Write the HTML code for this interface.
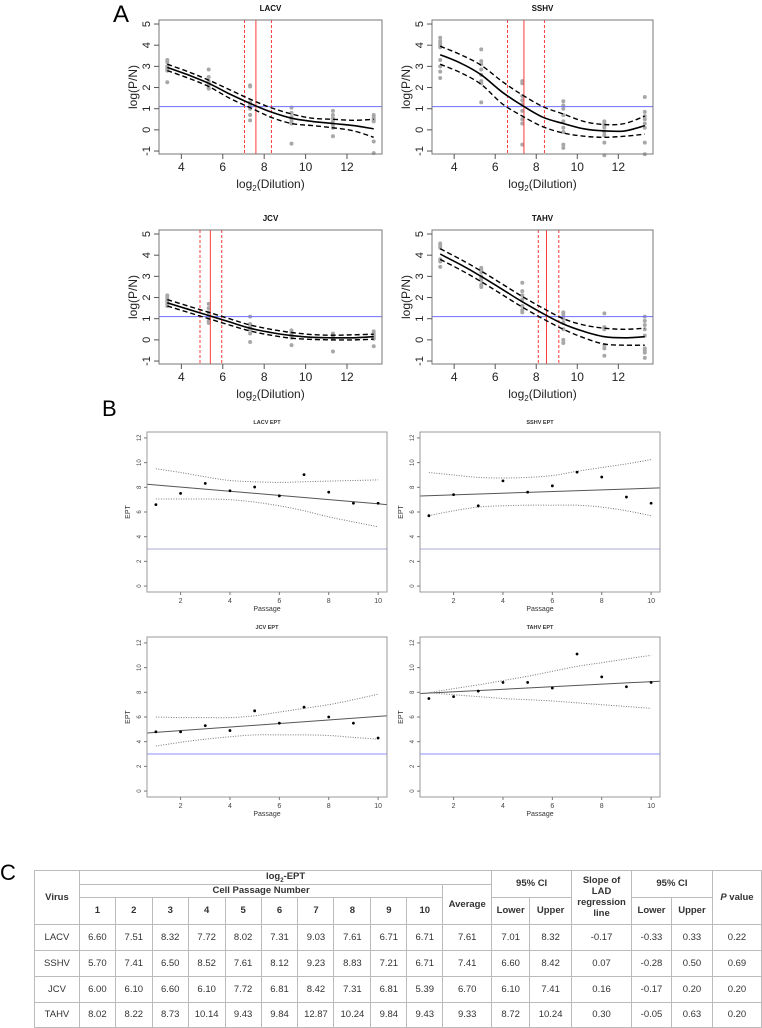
<!DOCTYPE html>
<html><head><meta charset="utf-8">
<style>
body{margin:0;background:#fff;width:762px;height:1028px;overflow:hidden;position:relative;font-family:"Liberation Sans",sans-serif;}
svg{position:absolute;left:0;top:0;}
table{position:absolute;left:34px;top:870px;border-collapse:collapse;font-family:"Liberation Sans",sans-serif;font-size:9.5px;color:#333;table-layout:fixed;}
td{border:1px solid #bbb;text-align:center;padding:0;}
.h{font-weight:bold;}
</style></head>
<body>
<svg id="fig" width="762" height="1028" viewBox="0 0 762 1028">
<text x="113" y="22" font-size="24" font-family="Liberation Sans">A</text>
<text x="102" y="416" font-size="22" font-family="Liberation Sans">B</text>
<text x="0" y="880" font-size="22" font-family="Liberation Sans">C</text>
</svg>

<table>
<colgroup><col style="width:45px"><col style="width:36px"><col style="width:37px"><col style="width:36px"><col style="width:37px"><col style="width:36px"><col style="width:37px"><col style="width:36px"><col style="width:37px"><col style="width:36px"><col style="width:36px"><col style="width:49px"><col style="width:38px"><col style="width:42px"><col style="width:60px"><col style="width:40px"><col style="width:41px"><col style="width:49px"></colgroup>
<tr style="height:13px"><td rowspan="3" class="h">Virus</td><td colspan="11" class="h">log<sub style="font-size:6px">2</sub>-EPT</td><td colspan="2" rowspan="2" class="h">95% CI</td><td rowspan="3" class="h">Slope of LAD regression line</td><td colspan="2" rowspan="2" class="h">95% CI</td><td rowspan="3" class="h"><i>P</i> value</td></tr>
<tr style="height:13px"><td colspan="10" class="h">Cell Passage Number</td><td rowspan="2" class="h">Average</td></tr>
<tr style="height:27px"><td class="h">1</td><td class="h">2</td><td class="h">3</td><td class="h">4</td><td class="h">5</td><td class="h">6</td><td class="h">7</td><td class="h">8</td><td class="h">9</td><td class="h">10</td><td class="h">Lower</td><td class="h">Upper</td><td class="h">Lower</td><td class="h">Upper</td></tr>
<tr style="height:26px"><td>LACV</td><td>6.60</td><td>7.51</td><td>8.32</td><td>7.72</td><td>8.02</td><td>7.31</td><td>9.03</td><td>7.61</td><td>6.71</td><td>6.71</td><td>7.61</td><td>7.01</td><td>8.32</td><td>-0.17</td><td>-0.33</td><td>0.33</td><td>0.22</td></tr>
<tr style="height:26px"><td>SSHV</td><td>5.70</td><td>7.41</td><td>6.50</td><td>8.52</td><td>7.61</td><td>8.12</td><td>9.23</td><td>8.83</td><td>7.21</td><td>6.71</td><td>7.41</td><td>6.60</td><td>8.42</td><td>0.07</td><td>-0.28</td><td>0.50</td><td>0.69</td></tr>
<tr style="height:26px"><td>JCV</td><td>6.00</td><td>6.10</td><td>6.60</td><td>6.10</td><td>7.72</td><td>6.81</td><td>8.42</td><td>7.31</td><td>6.81</td><td>5.39</td><td>6.70</td><td>6.10</td><td>7.41</td><td>0.16</td><td>-0.17</td><td>0.20</td><td>0.20</td></tr>
<tr style="height:25px"><td>TAHV</td><td>8.02</td><td>8.22</td><td>8.73</td><td>10.14</td><td>9.43</td><td>9.84</td><td>12.87</td><td>10.24</td><td>9.84</td><td>9.43</td><td>9.33</td><td>8.72</td><td>10.24</td><td>0.30</td><td>-0.05</td><td>0.63</td><td>0.20</td></tr>
</table>

<script>
// ---------- Panel A data ----------
const aNames = ["LACV","SSHV","JCV","TAHV"];
const aCurveX = [3.32,4.32,5.32,6.32,7.32,8.32,9.32,10.32,11.32,12.32,13.29];
const aFitLACV = [2.95,2.6,2.2,1.7,1.25,0.85,0.55,0.4,0.3,0.2,0.05];
const aUpLACV = [3.1,2.75,2.35,1.9,1.45,1.05,0.75,0.55,0.5,0.45,0.5];
const aLoLACV = [2.8,2.45,2.05,1.5,1.05,0.6,0.3,0.2,0.1,-0.05,-0.35];
const aFitSSHV = [3.55,3.15,2.6,1.8,1.15,0.6,0.3,0.05,-0.05,-0.05,0.2];
const aUpSSHV = [3.95,3.55,3.05,2.3,1.65,1.1,0.75,0.4,0.25,0.3,0.65];
const aLoSSHV = [3.1,2.7,2.15,1.25,0.65,0.15,-0.15,-0.3,-0.35,-0.3,-0.2];
const aFitJCV = [1.75,1.45,1.15,0.85,0.55,0.35,0.2,0.12,0.1,0.1,0.15];
const aUpJCV = [1.9,1.6,1.3,1.0,0.7,0.5,0.35,0.25,0.22,0.24,0.27];
const aLoJCV = [1.6,1.3,1.0,0.7,0.42,0.22,0.08,0.02,0.0,0.0,0.03];
const aFitTAHV = [4.05,3.55,3.0,2.4,1.8,1.25,0.75,0.4,0.15,0.1,0.15];
const aUpTAHV = [4.3,3.8,3.25,2.65,2.05,1.5,1.0,0.7,0.55,0.5,0.55];
const aLoTAHV = [3.8,3.3,2.75,2.15,1.55,1.0,0.5,0.1,-0.2,-0.25,-0.25];
const aDoseX = [3.32,5.32,7.32,9.32,11.32,13.29];
const aPtsLACV = [[3.3,3.2,3.0,2.9,2.8,2.85,2.25],[2.85,2.5,2.3,2.2,2.1,2.0,1.95],[2.1,2.05,1.3,1.2,1.0,0.7,0.45],[1.05,0.8,0.6,0.5,0.4,0.3,-0.65],[0.9,0.7,0.55,0.4,0.25,0.1,-0.3],[0.7,0.6,0.5,0.45,0.4,-0.55,-1.1]];
const aPtsSSHV = [[4.35,4.2,4.1,4.0,3.9,3.3,3.0,2.75,2.45],[3.8,3.25,3.1,2.85,2.6,2.3,2.2,1.3],[2.3,2.2,1.6,1.4,1.2,0.9,0.5,0.3,-0.7],[1.35,1.15,1.0,0.7,0.4,0.1,-0.1,-0.7,-0.85],[0.4,0.3,0.2,0.1,-0.1,-0.25,-0.6,-1.2],[1.55,0.85,0.65,0.5,0.3,0.1,-0.6,-1.15]];
const aPtsJCV = [[2.1,2.0,1.9,1.8,1.7,1.6],[1.7,1.5,1.3,1.1,0.9,0.8],[1.1,0.75,0.6,0.5,0.3,-0.1],[0.45,0.35,0.25,0.15,0.1,-0.25],[0.3,0.2,0.1,0.05,-0.55],[0.4,0.3,0.2,0.1,0.05,-0.3]];
const aPtsTAHV = [[4.55,4.45,4.35,3.8,3.7,3.45],[3.4,3.3,3.2,3.0,2.9,2.8,2.6,2.5],[2.7,2.3,2.1,1.9,1.6,1.4,1.3],[1.3,1.2,1.0,0.8,0.5,0.0,-0.15],[1.25,0.6,0.5,-0.25,-0.4,-0.75],[1.1,0.9,0.7,0.5,0.2,-0.4,-0.5,-0.6,-0.85]];
const aCutoff = [1.1,1.1,1.1,1.1];
const aEstimate = [7.6,7.4,5.4,8.5];
const aCiLow = [7.05,6.6,4.9,8.1];
const aCiHigh = [8.35,8.4,5.95,9.1];
const aXTicks = [4,6,8,10,12];
const aYTicks = [-1,0,1,2,3,4,5];

// ---------- Panel B data ----------
const bNames = ["LACV EPT","SSHV EPT","JCV EPT","TAHV EPT"];
const bPassage = [1,2,3,4,5,6,7,8,9,10];
const bEptLACV = [6.6,7.51,8.32,7.72,8.02,7.31,9.03,7.61,6.71,6.71];
const bEptSSHV = [5.7,7.41,6.5,8.52,7.61,8.12,9.23,8.83,7.21,6.71];
const bEptJCV = [4.8,4.8,5.3,4.9,6.5,5.5,6.8,6.0,5.5,4.3];
const bEptTAHV = [7.5,7.65,8.1,8.8,8.8,8.35,11.1,9.25,8.45,8.8];
const bFitEnds = [[8.25,6.6],[7.3,7.95],[4.7,6.1],[7.9,8.9]];
const bCiX = [1,2,3,4,5,6,7,8,9,10];
const bUpLACV = [9.5,9.2,8.85,8.55,8.45,8.4,8.45,8.5,8.55,8.6];
const bLoLACV = [7.05,7.05,7.05,7.0,6.8,6.5,6.1,5.6,5.2,4.8];
const bUpSSHV = [9.2,9.0,8.8,8.75,8.8,8.95,9.3,9.6,9.9,10.25];
const bLoSSHV = [5.7,6.1,6.4,6.5,6.55,6.55,6.55,6.4,6.1,5.7];
const bUpJCV = [6.0,5.95,5.95,5.95,6.1,6.4,6.7,7.0,7.4,7.85];
const bLoJCV = [3.65,3.95,4.2,4.4,4.55,4.55,4.55,4.5,4.35,4.2];
const bUpTAHV = [7.97,8.3,8.6,8.95,9.3,9.7,10.1,10.4,10.7,11.0];
const bLoTAHV = [7.97,7.8,7.65,7.5,7.4,7.3,7.15,7.0,6.85,6.7];
const bCutoff = [3,3,3,3];
const bXTicks = [2,4,6,8,10];
const bYTicks = [0,2,4,6,8,10,12];

const NS = "http://www.w3.org/2000/svg";
const svg = document.getElementById("fig");
function mk(tag, attrs, parent){
  const e = document.createElementNS(NS, tag);
  for (const k in attrs) e.setAttribute(k, attrs[k]);
  (parent||svg).appendChild(e);
  return e;
}
function smoothPath(pts){
  let d = "M"+pts[0][0].toFixed(1)+","+pts[0][1].toFixed(1);
  for (let i=0;i<pts.length-1;i++){
    const p0=pts[Math.max(0,i-1)], p1=pts[i], p2=pts[i+1], p3=pts[Math.min(pts.length-1,i+2)];
    const c1=[p1[0]+(p2[0]-p0[0])/6, p1[1]+(p2[1]-p0[1])/6];
    const c2=[p2[0]-(p3[0]-p1[0])/6, p2[1]-(p3[1]-p1[1])/6];
    d += " C"+c1[0].toFixed(1)+","+c1[1].toFixed(1)+" "+c2[0].toFixed(1)+","+c2[1].toFixed(1)+" "+p2[0].toFixed(1)+","+p2[1].toFixed(1);
  }
  return d;
}

// ---------- Draw panel A ----------
const aBoxes = [[159,20,382,154],[432,20,653,154],[159,230,382,364],[432,230,653,364]];
const aFits = [aFitLACV,aFitSSHV,aFitJCV,aFitTAHV];
const aUps = [aUpLACV,aUpSSHV,aUpJCV,aUpTAHV];
const aLos = [aLoLACV,aLoSSHV,aLoJCV,aLoTAHV];
const aPts = [aPtsLACV,aPtsSSHV,aPtsJCV,aPtsTAHV];
for (let p=0;p<4;p++){
  const [x0,y0,x1,y1] = aBoxes[p];
  const sx = v => x0 + (v-2.92)/(13.69-2.92)*(x1-x0);
  const sy = v => y1 - (v+1.14)/(5.19+1.14)*(y1-y0);
  const g = mk("g",{});
  
  
  // points
  aDoseX.forEach((xv,i)=>{
    aPts[p][i].forEach(yv=>{
      const c = mk("circle",{cx:sx(xv),cy:sy(yv),r:2,fill:"#a8a8a8"},g);
      
      
    });
  });
  // cutoff
  const bl = mk("line",{x1:x0,x2:x1,y1:sy(aCutoff[p]),y2:sy(aCutoff[p]),stroke:"#6f6fff","stroke-width":1},g);
  
  
  // red verticals
  [[aCiLow[p],"3,2"],[aEstimate[p],""],[aCiHigh[p],"3,2"]].forEach(([v,da])=>{
    const l = mk("line",{x1:sx(v),x2:sx(v),y1:y0,y2:y1,stroke:"#ff3a3a","stroke-width":1,"stroke-dasharray":da},g);
    
    
  });
  // curves
  const fitPts = aCurveX.map((xv,i)=>[sx(xv),sy(aFits[p][i])]);
  const upPts = aCurveX.map((xv,i)=>[sx(xv),sy(aUps[p][i])]);
  const loPts = aCurveX.map((xv,i)=>[sx(xv),sy(aLos[p][i])]);
  const f = mk("path",{d:smoothPath(fitPts),fill:"none",stroke:"#000","stroke-width":1.6},g);
  
  
  const u = mk("path",{d:smoothPath(upPts),fill:"none",stroke:"#000","stroke-width":1.4,"stroke-dasharray":"5,3"},g);
  
  
  const lo = mk("path",{d:smoothPath(loPts),fill:"none",stroke:"#000","stroke-width":1.4,"stroke-dasharray":"5,3"},g);
  
  
  // box
  const bx = mk("rect",{x:x0,y:y0,width:x1-x0,height:y1-y0,fill:"none",stroke:"#777","stroke-width":1},g);
  
  
  aXTicks.forEach(t=>{
    mk("line",{x1:sx(t),x2:sx(t),y1:y1,y2:y1+5,stroke:"#555"},g);
    const tx = mk("text",{x:sx(t),y:y1+17,"font-size":12,"text-anchor":"middle",fill:"#222"},g);
    tx.textContent = t;
    
    
  });
  aYTicks.forEach(t=>{
    mk("line",{x1:x0-5,x2:x0,y1:sy(t),y2:sy(t),stroke:"#555"},g);
    const tx = mk("text",{x:0,y:0,"font-size":11,"text-anchor":"middle",fill:"#222",transform:"translate("+(x0-9)+","+sy(t)+") rotate(-90)"},g);
    tx.textContent = t;
    
    
  });
  const yl = mk("text",{x:0,y:0,"font-size":12,"text-anchor":"middle",fill:"#222",transform:"translate("+(x0-22)+","+((y0+y1)/2)+") rotate(-90)"},g);
  yl.textContent = "log(P/N)";
  
  
  const xl = mk("text",{x:(x0+x1)/2,y:y1+34,"font-size":12,"text-anchor":"middle",fill:"#222"},g);
  xl.innerHTML = 'log<tspan font-size="8" dy="3">2</tspan><tspan dy="-3">(Dilution)</tspan>';
  
  
  const tt = mk("text",{x:(x0+x1)/2,y:y0-9,"font-size":8,"font-weight":"bold","text-anchor":"middle",fill:"#111"},g);
  tt.textContent = aNames[p];
  
  
}

// ---------- Draw panel B ----------
const bBoxes = [[147,432,387,592],[420,432,660,592],[147,637,387,797],[420,637,660,797]];
const bEpts = [bEptLACV,bEptSSHV,bEptJCV,bEptTAHV];
const bUps = [bUpLACV,bUpSSHV,bUpJCV,bUpTAHV];
const bLos = [bLoLACV,bLoSSHV,bLoJCV,bLoTAHV];
for (let p=0;p<4;p++){
  const [x0,y0,x1,y1] = bBoxes[p];
  const sx = v => x0 + (v-0.64)/(10.36-0.64)*(x1-x0);
  const sy = v => y1 - (v+0.48)/(12.96)*(y1-y0);
  const g = mk("g",{});
  
  
  const bl = mk("line",{x1:x0,x2:x1,y1:sy(bCutoff[p]),y2:sy(bCutoff[p]),stroke:p<2?"#a8a8d8":"#8f8fff","stroke-width":1},g);
  
  
  const fl = mk("line",{x1:x0,y1:sy(bFitEnds[p][0]),x2:x1,y2:sy(bFitEnds[p][1]),stroke:"#555","stroke-width":1},g);
  
  
  const up = mk("path",{d:smoothPath(bCiX.map((xv,i)=>[sx(xv),sy(bUps[p][i])])),fill:"none",stroke:"#777","stroke-width":1,"stroke-dasharray":"1,1.5"},g);
  
  
  const lo = mk("path",{d:smoothPath(bCiX.map((xv,i)=>[sx(xv),sy(bLos[p][i])])),fill:"none",stroke:"#777","stroke-width":1,"stroke-dasharray":"1,1.5"},g);
  
  
  bPassage.forEach((xv,i)=>{
    const c = mk("circle",{cx:sx(xv),cy:sy(bEpts[p][i]),r:1.4,fill:"#000"},g);
    
    
  });
  const bx = mk("rect",{x:x0,y:y0,width:x1-x0,height:y1-y0,fill:"none",stroke:"#999","stroke-width":1},g);
  
  
  bXTicks.forEach(t=>{
    mk("line",{x1:sx(t),x2:sx(t),y1:y1,y2:y1+3,stroke:"#777"},g);
    const tx = mk("text",{x:sx(t),y:y1+11,"font-size":7,"text-anchor":"middle",fill:"#444"},g);
    tx.textContent = t;
    
    
  });
  bYTicks.forEach(t=>{
    mk("line",{x1:x0-3,x2:x0,y1:sy(t),y2:sy(t),stroke:"#777"},g);
    const tx = mk("text",{x:0,y:0,"font-size":6,"text-anchor":"middle",fill:"#444",transform:"translate("+(x0-6)+","+sy(t)+") rotate(-90)"},g);
    tx.textContent = t;
    
    
  });
  const yl = mk("text",{x:0,y:0,"font-size":7,"text-anchor":"middle",fill:"#333",transform:"translate("+(x0-17)+","+((y0+y1)/2)+") rotate(-90)"},g);
  yl.textContent = "EPT";
  
  
  const xl = mk("text",{x:(x0+x1)/2,y:y1+19,"font-size":7,"text-anchor":"middle",fill:"#333"},g);
  xl.textContent = "Passage";
  
  
  const tt = mk("text",{x:(x0+x1)/2,y:y0-8,"font-size":5.5,"font-weight":"bold","text-anchor":"middle",fill:"#333"},g);
  tt.textContent = bNames[p];
  
  
}
</script>
</body></html>
